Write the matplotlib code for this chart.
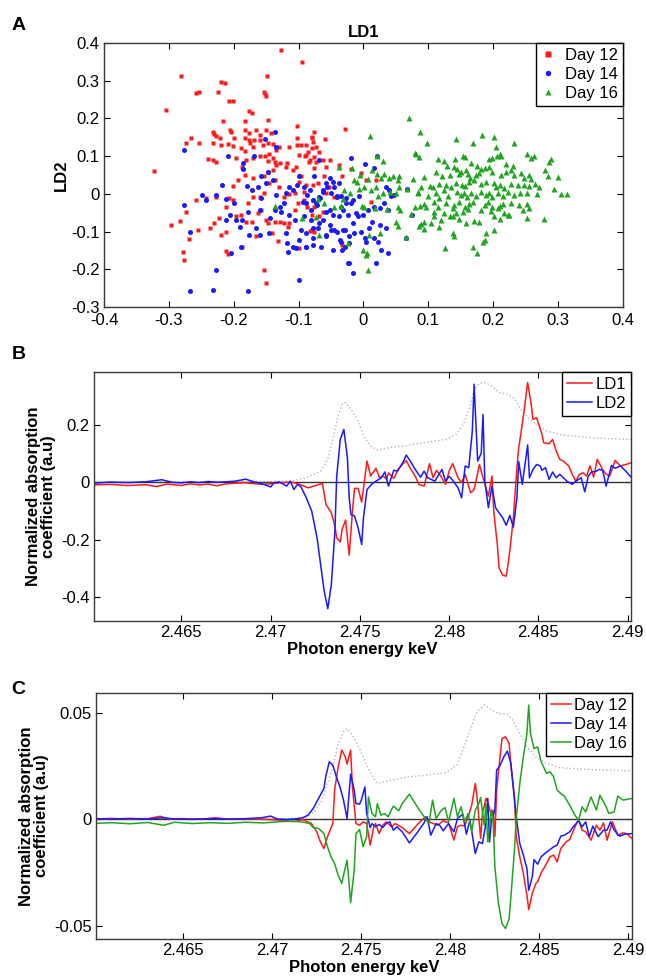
import matplotlib
matplotlib.use("Agg")
import matplotlib.pyplot as plt
from matplotlib.ticker import FuncFormatter

plt.rcParams['font.family'] = ['Liberation Sans', 'DejaVu Sans']

# ---- Panel A: LD scores (LD1, LD2) ----
day12 = [(-0.127, 0.382), (-0.094, 0.349), (-0.282, 0.313), (-0.149, 0.313), (-0.304, 0.222),
         (-0.219, 0.296), (-0.214, 0.295), (-0.224, 0.271), (-0.258, 0.268), (-0.253, 0.270),
         (-0.207, 0.245), (-0.201, 0.246), (-0.153, 0.271), (-0.151, 0.264), (-0.150, 0.260),
         (-0.177, 0.220), (-0.172, 0.215), (-0.217, 0.193), (-0.183, 0.192), (-0.147, 0.196),
         (-0.103, 0.181), (-0.274, 0.134), (-0.266, 0.149), (-0.253, 0.136), (-0.232, 0.164),
         (-0.231, 0.159), (-0.206, 0.169), (-0.204, 0.165), (-0.183, 0.169), (-0.177, 0.162),
         (-0.165, 0.169), (-0.160, 0.156), (-0.150, 0.169), (-0.142, 0.161), (-0.199, 0.147),
         (-0.183, 0.147), (-0.176, 0.143), (-0.175, 0.134), (-0.169, 0.143), (-0.160, 0.143),
         (-0.155, 0.130), (-0.147, 0.134), (-0.140, 0.131), (-0.135, 0.116), (-0.130, 0.123),
         (-0.170, 0.123), (-0.145, 0.106), (-0.140, 0.094), (-0.188, 0.121), (-0.183, 0.114),
         (-0.201, 0.128), (-0.209, 0.132), (-0.219, 0.130), (-0.221, 0.147), (-0.227, 0.154),
         (-0.232, 0.134), (-0.240, 0.092), (-0.232, 0.090), (-0.227, 0.085), (-0.196, 0.094),
         (-0.187, 0.072), (-0.181, 0.090), (-0.170, 0.094), (-0.160, 0.099), (-0.152, 0.100),
         (-0.147, 0.088), (-0.136, 0.085), (-0.129, 0.081), (-0.118, 0.081), (-0.115, 0.125),
         (-0.103, 0.130), (-0.103, 0.147), (-0.088, 0.130), (-0.086, 0.112), (-0.079, 0.147),
         (-0.076, 0.165), (-0.059, 0.145), (-0.029, 0.172), (-0.073, 0.125), (-0.068, 0.112),
         (-0.076, 0.097), (-0.063, 0.090), (-0.058, 0.072), (-0.051, 0.090), (-0.099, 0.103),
         (-0.090, 0.099), (-0.084, 0.085), (-0.104, 0.072), (-0.109, 0.063), (-0.119, 0.072),
         (-0.135, 0.077), (-0.140, 0.063), (-0.147, 0.059), (-0.154, 0.046), (-0.170, 0.041),
         (-0.183, 0.050), (-0.194, 0.037), (-0.201, 0.021), (-0.207, -0.012), (-0.227, -0.008),
         (-0.242, -0.012), (-0.258, -0.016), (-0.273, -0.047), (-0.283, -0.071), (-0.237, -0.091),
         (-0.230, -0.078), (-0.222, -0.065), (-0.212, -0.034), (-0.201, -0.016), (-0.196, -0.060),
         (-0.189, -0.056), (-0.181, -0.074), (-0.172, -0.074), (-0.163, -0.050), (-0.158, -0.043),
         (-0.150, -0.069), (-0.147, -0.078), (-0.141, -0.105), (-0.132, -0.124), (-0.136, -0.074),
         (-0.129, -0.074), (-0.123, -0.078), (-0.114, -0.078), (-0.106, -0.043), (-0.101, -0.025),
         (-0.091, -0.016), (-0.087, -0.034), (-0.079, -0.056), (-0.076, -0.100), (-0.068, -0.060),
         (-0.062, -0.047), (-0.058, 0.001), (-0.053, 0.019), (-0.046, -0.008), (-0.106, 0.001),
         (-0.114, 0.000), (-0.122, -0.008), (-0.130, 0.019), (-0.137, 0.037), (-0.145, 0.028),
         (-0.154, 0.001), (-0.160, -0.008), (-0.170, -0.008), (-0.178, -0.025), (-0.165, -0.113),
         (-0.153, -0.202), (-0.150, -0.237), (-0.212, -0.151), (-0.209, -0.159), (-0.278, -0.153),
         (-0.276, -0.175), (-0.269, -0.121), (-0.255, -0.096), (-0.219, -0.109), (-0.212, -0.100),
         (-0.187, -0.140), (-0.117, -0.087), (-0.099, -0.144), (-0.033, -0.136), (-0.323, 0.061),
         (-0.296, -0.082), (-0.080, 0.150), (-0.078, 0.138), (-0.079, 0.121), (-0.096, 0.130),
         (-0.088, 0.103), (-0.083, 0.090), (-0.073, 0.085), (-0.076, 0.068), (-0.038, 0.077),
         (-0.019, 0.065), (-0.033, 0.046), (-0.004, 0.056), (0.004, 0.037), (0.012, -0.023),
         (-0.096, 0.046), (-0.099, 0.032), (-0.088, 0.024), (-0.078, 0.024), (-0.070, 0.028),
         (-0.060, 0.046), (-0.091, 0.006), (-0.078, -0.016), (-0.076, -0.034), (-0.079, -0.096),
         (-0.083, -0.098), (0.020, 0.037)]

day14 = [(-0.277, 0.115), (-0.209, 0.101), (-0.185, 0.065), (-0.169, 0.099), (-0.152, 0.145),
         (-0.137, 0.165), (-0.135, 0.125), (-0.186, 0.081), (-0.277, -0.030), (-0.268, -0.100),
         (-0.242, -0.016), (-0.227, -0.003), (-0.218, 0.024), (-0.212, -0.015), (-0.196, -0.069),
         (-0.191, -0.087), (-0.187, -0.069), (-0.178, -0.047), (-0.179, 0.021), (-0.172, 0.010),
         (-0.163, 0.019), (-0.158, -0.012), (-0.158, 0.046), (-0.147, 0.059), (-0.150, 0.028),
         (-0.140, 0.037), (-0.135, -0.003), (-0.129, -0.034), (-0.123, -0.025), (-0.119, 0.001),
         (-0.114, 0.019), (-0.109, 0.010), (-0.103, 0.024), (-0.099, 0.046), (-0.091, 0.019),
         (-0.087, -0.003), (-0.082, 0.010), (-0.078, -0.016), (-0.072, -0.030), (-0.068, -0.008),
         (-0.063, 0.010), (-0.058, 0.028), (-0.051, 0.041), (-0.045, 0.019), (-0.040, -0.008),
         (-0.034, -0.034), (-0.027, -0.012), (-0.019, -0.025), (-0.012, -0.050), (-0.052, -0.043),
         (-0.063, -0.069), (-0.070, -0.091), (-0.078, -0.118), (-0.088, -0.140), (-0.088, -0.105),
         (-0.096, -0.096), (-0.105, -0.069), (-0.114, -0.056), (-0.119, -0.105), (-0.118, -0.131),
         (-0.117, -0.153), (-0.109, -0.140), (-0.104, -0.144), (-0.099, -0.122), (-0.091, -0.060),
         (-0.081, -0.069), (-0.058, -0.113), (-0.045, -0.096), (-0.036, -0.122), (-0.029, -0.096),
         (-0.022, -0.131), (-0.016, -0.211), (-0.023, -0.184), (-0.099, -0.228), (-0.268, -0.259),
         (-0.232, -0.255), (-0.227, -0.202), (-0.204, -0.158), (-0.189, -0.142), (-0.176, -0.109),
         (-0.160, -0.109), (-0.145, -0.105), (-0.178, -0.259), (-0.033, -0.149), (-0.127, -0.047),
         (-0.137, -0.043), (-0.144, -0.065), (-0.160, -0.043), (-0.166, -0.091), (-0.206, -0.056),
         (-0.212, -0.069), (-0.199, -0.025), (-0.249, -0.003), (-0.019, 0.094), (0.021, 0.099),
         (0.003, 0.079), (0.017, 0.068), (-0.069, 0.090), (-0.076, 0.046), (-0.037, 0.028),
         (-0.047, 0.032), (-0.056, 0.019), (-0.063, 0.006), (-0.050, 0.001), (-0.034, -0.007),
         (-0.027, -0.025), (-0.032, -0.043), (-0.040, -0.007), (-0.067, -0.012), (-0.073, -0.025),
         (-0.081, -0.043), (-0.088, -0.025), (-0.093, -0.021), (-0.058, -0.047), (-0.047, -0.056),
         (-0.037, -0.060), (-0.024, -0.056), (-0.016, -0.078), (-0.009, -0.060), (-0.001, -0.056),
         (0.007, -0.043), (0.017, -0.034), (0.025, -0.038), (0.035, 0.019), (0.040, 0.010),
         (0.043, -0.007), (0.032, -0.025), (0.038, -0.043), (0.048, -0.003), (0.067, 0.012),
         (0.075, -0.056), (0.065, -0.118), (0.035, -0.091), (0.025, -0.083), (0.014, -0.074),
         (0.009, -0.091), (-0.004, -0.100), (-0.014, -0.105), (-0.022, -0.113), (-0.032, -0.096),
         (-0.040, -0.100), (-0.050, -0.096), (-0.058, -0.109), (-0.065, -0.140), (-0.078, -0.136),
         (-0.088, -0.140), (-0.034, -0.127), (-0.029, -0.140), (0.002, -0.118), (0.004, -0.127),
         (0.017, -0.118), (0.022, -0.127), (0.027, -0.149), (0.038, -0.156), (0.020, -0.184),
         (-0.022, -0.184), (-0.047, -0.149), (-0.052, -0.083), (-0.068, -0.078), (-0.078, -0.091),
         (-0.016, -0.016), (-0.006, -0.007)]

day16 = [(0.088, 0.163), (0.098, 0.134), (0.143, 0.145), (0.169, 0.134), (0.183, 0.156),
         (0.202, 0.150), (0.205, 0.125), (0.232, 0.134), (0.081, 0.105), (0.086, 0.097),
         (0.115, 0.093), (0.124, 0.086), (0.129, 0.074), (0.142, 0.093), (0.153, 0.101),
         (0.156, 0.097), (0.166, 0.081), (0.176, 0.074), (0.181, 0.065), (0.193, 0.092),
         (0.198, 0.094), (0.206, 0.099), (0.210, 0.105), (0.213, 0.100), (0.220, 0.078),
         (0.230, 0.074), (0.253, 0.105), (0.258, 0.094), (0.263, 0.099), (0.289, 0.092),
         (0.287, 0.085), (0.094, 0.044), (0.112, 0.059), (0.121, 0.046), (0.134, 0.050),
         (0.140, 0.072), (0.144, 0.065), (0.148, 0.053), (0.151, 0.059), (0.158, 0.062),
         (0.161, 0.053), (0.165, 0.041), (0.174, 0.050), (0.179, 0.055), (0.188, 0.068),
         (0.194, 0.072), (0.199, 0.059), (0.212, 0.050), (0.220, 0.059), (0.228, 0.063),
         (0.233, 0.050), (0.243, 0.055), (0.248, 0.041), (0.256, 0.050), (0.258, 0.039),
         (0.280, 0.062), (0.284, 0.046), (0.300, 0.044), (0.102, 0.021), (0.107, 0.017),
         (0.116, 0.026), (0.127, 0.024), (0.135, 0.019), (0.143, 0.028), (0.152, 0.024),
         (0.156, 0.021), (0.163, 0.032), (0.171, 0.037), (0.181, 0.026), (0.189, 0.032),
         (0.202, 0.028), (0.204, 0.019), (0.210, 0.024), (0.217, 0.015), (0.228, 0.026),
         (0.238, 0.024), (0.248, 0.024), (0.256, 0.021), (0.264, 0.026), (0.271, 0.019),
         (0.294, 0.012), (0.305, -0.001), (0.314, -0.001), (0.085, 0.003), (0.099, -0.007),
         (0.112, 0.003), (0.117, -0.012), (0.125, 0.010), (0.130, -0.007), (0.145, 0.006),
         (0.150, -0.003), (0.155, 0.001), (0.160, -0.009), (0.166, 0.001), (0.174, -0.007),
         (0.181, 0.006), (0.189, -0.003), (0.194, 0.003), (0.198, -0.009), (0.207, 0.001),
         (0.216, -0.007), (0.223, 0.006), (0.233, -0.003), (0.242, 0.003), (0.253, 0.001),
         (0.268, -0.001), (0.094, -0.027), (0.109, -0.023), (0.115, -0.034), (0.127, -0.025),
         (0.140, -0.030), (0.148, -0.021), (0.156, -0.034), (0.163, -0.027), (0.169, -0.023),
         (0.187, -0.030), (0.192, -0.023), (0.199, -0.034), (0.211, -0.032), (0.215, -0.027),
         (0.228, -0.025), (0.240, -0.030), (0.253, -0.027), (0.080, -0.034), (0.097, -0.034),
         (0.109, -0.047), (0.125, -0.052), (0.138, -0.038), (0.143, -0.052), (0.153, -0.047),
         (0.161, -0.041), (0.181, -0.043), (0.197, -0.045), (0.207, -0.038), (0.217, -0.052),
         (0.225, -0.056), (0.246, -0.043), (0.256, -0.038), (0.089, -0.080), (0.104, -0.078),
         (0.109, -0.060), (0.120, -0.069), (0.133, -0.059), (0.138, -0.060), (0.148, -0.068),
         (0.158, -0.078), (0.171, -0.071), (0.179, -0.076), (0.202, -0.060), (0.211, -0.068),
         (0.223, -0.056), (0.253, -0.065), (0.279, -0.068), (0.093, -0.094), (0.117, -0.089),
         (0.138, -0.103), (0.140, -0.112), (0.189, -0.103), (0.202, -0.096), (0.184, -0.127),
         (0.187, -0.122), (0.126, -0.144), (0.169, -0.142), (0.176, -0.156), (0.071, 0.200),
         (0.010, 0.154), (0.021, 0.099), (0.031, 0.088), (0.079, 0.108), (-0.037, 0.072),
         (-0.018, 0.068), (-0.010, 0.032), (-0.014, 0.037), (-0.005, 0.050), (0.007, 0.039),
         (0.014, 0.062), (0.021, 0.053), (0.027, 0.041), (0.032, 0.053), (0.040, 0.041),
         (0.045, 0.047), (0.053, 0.037), (0.055, 0.046), (0.076, 0.039), (-0.030, 0.009),
         (-0.020, 0.001), (-0.007, 0.012), (0.001, 0.017), (0.012, 0.010), (0.019, 0.019),
         (0.023, -0.007), (0.031, 0.001), (0.041, 0.006), (0.050, 0.001), (0.067, 0.012),
         (0.084, 0.006), (0.089, 0.017), (-0.070, -0.014), (-0.060, -0.025), (-0.045, -0.036),
         (-0.034, -0.032), (-0.032, -0.014), (-0.002, -0.032), (0.001, -0.036), (0.018, -0.038),
         (0.037, -0.041), (0.053, -0.034), (0.057, -0.044), (0.074, -0.053), (0.088, -0.032),
         (-0.137, -0.032), (-0.094, -0.065), (-0.073, -0.062), (0.050, -0.074), (0.053, -0.085),
         (0.093, -0.076), (0.000, -0.149), (0.006, -0.158), (0.008, -0.109), (0.004, -0.162),
         (0.066, -0.115), (0.086, -0.085), (-0.024, -0.131), (-0.069, -0.109), (0.025, -0.105),
         (0.007, -0.202), (0.055, 0.017)]

# ---- Panel B: LD loadings vs photon energy (keV) ----
ld1 = [(2.4601, -0.010), (2.4610, -0.008), (2.4620, -0.012), (2.4630, -0.009), (2.4636, -0.016),
       (2.4642, -0.007), (2.4650, -0.012), (2.4655, -0.006), (2.4660, -0.010), (2.4665, -0.007),
       (2.4670, -0.013), (2.4675, -0.006), (2.4680, -0.004), (2.4685, -0.002), (2.4690, -0.005),
       (2.4695, -0.008), (2.4700, -0.006), (2.4705, -0.003), (2.4711, 0.000), (2.4715, -0.005),
       (2.4721, -0.020), (2.4729, -0.005), (2.4731, -0.078), (2.4734, -0.107), (2.4736, -0.153),
       (2.4737, -0.194), (2.4739, -0.208), (2.4740, -0.165), (2.4742, -0.132), (2.4744, -0.254),
       (2.4745, -0.171), (2.4746, -0.089), (2.4747, -0.022), (2.4749, -0.022), (2.4751, -0.070),
       (2.4754, 0.073), (2.4756, 0.021), (2.4759, 0.048), (2.4761, 0.015), (2.4763, 0.021),
       (2.4765, 0.009), (2.4766, 0.032), (2.4769, 0.013), (2.4771, 0.038), (2.4773, 0.056),
       (2.4776, 0.075), (2.4778, 0.050), (2.4781, 0.021), (2.4783, -0.008), (2.4786, -0.014),
       (2.4789, 0.064), (2.4791, 0.015), (2.4793, 0.041), (2.4795, 0.024), (2.4798, -0.008),
       (2.4800, 0.038), (2.4802, 0.064), (2.4805, 0.015), (2.4807, -0.002), (2.4809, 0.027),
       (2.4812, -0.037), (2.4814, -0.026), (2.4817, 0.061), (2.4819, 0.015), (2.4822, -0.049),
       (2.4824, 0.021), (2.4825, -0.101), (2.4827, -0.217), (2.4828, -0.298), (2.4830, -0.324),
       (2.4832, -0.327), (2.4833, -0.287), (2.4834, -0.240), (2.4836, -0.124), (2.4838, 0.050),
       (2.4839, 0.119), (2.4840, 0.160), (2.4842, 0.247), (2.4844, 0.346), (2.4846, 0.270),
       (2.4847, 0.218), (2.4849, 0.224), (2.4852, 0.166), (2.4853, 0.137), (2.4856, 0.133),
       (2.4858, 0.148), (2.4860, 0.108), (2.4862, 0.079), (2.4864, 0.073), (2.4867, 0.056),
       (2.4869, 0.027), (2.4871, 0.003), (2.4873, 0.027), (2.4875, 0.032), (2.4877, 0.021),
       (2.4879, 0.056), (2.4881, 0.017), (2.4883, 0.079), (2.4886, 0.044), (2.4888, 0.027),
       (2.4890, 0.021), (2.4893, 0.075), (2.4896, 0.056), (2.4899, 0.061), (2.4902, 0.067)]

ld2 = [(2.4601, -0.004), (2.4610, 0.000), (2.4620, -0.002), (2.4630, 0.001), (2.4639, 0.008),
       (2.4645, -0.001), (2.4650, -0.003), (2.4655, 0.001), (2.4660, -0.002), (2.4665, 0.002),
       (2.4670, -0.001), (2.4675, 0.001), (2.4680, 0.003), (2.4686, 0.010), (2.4690, 0.002),
       (2.4695, -0.006), (2.4700, -0.017), (2.4702, -0.002), (2.4705, 0.000), (2.4709, -0.014),
       (2.4711, 0.003), (2.4713, -0.026), (2.4715, -0.008), (2.4717, -0.017), (2.4720, -0.055),
       (2.4723, -0.101), (2.4726, -0.194), (2.4728, -0.287), (2.4730, -0.379), (2.4732, -0.440),
       (2.4734, -0.356), (2.4736, -0.171), (2.4737, 0.020), (2.4739, 0.148), (2.4741, 0.183),
       (2.4743, 0.085), (2.4744, -0.055), (2.4745, -0.113), (2.4747, -0.118), (2.4749, -0.159),
       (2.4751, -0.217), (2.4752, -0.124), (2.4754, -0.026), (2.4757, -0.005), (2.4762, 0.015),
       (2.4764, 0.035), (2.4766, -0.014), (2.4769, 0.041), (2.4771, 0.038), (2.4774, 0.067),
       (2.4776, 0.094), (2.4778, 0.075), (2.4781, 0.044), (2.4784, 0.017), (2.4786, 0.038),
       (2.4788, 0.015), (2.4792, 0.003), (2.4796, 0.044), (2.4798, 0.003), (2.4800, 0.020),
       (2.4802, 0.006), (2.4805, -0.020), (2.4807, -0.055), (2.4809, 0.056), (2.4811, 0.050),
       (2.4813, 0.177), (2.4814, 0.340), (2.4816, 0.073), (2.4818, 0.100), (2.4819, 0.235),
       (2.4820, 0.003), (2.4822, -0.089), (2.4824, -0.014), (2.4826, -0.089), (2.4828, -0.107),
       (2.4830, -0.124), (2.4832, -0.150), (2.4834, -0.116), (2.4836, -0.157), (2.4838, -0.055),
       (2.4839, 0.071), (2.4841, -0.008), (2.4844, 0.129), (2.4845, 0.015), (2.4847, 0.044),
       (2.4849, 0.061), (2.4851, 0.056), (2.4852, 0.041), (2.4854, 0.050), (2.4856, 0.009),
       (2.4858, 0.035), (2.4860, 0.015), (2.4862, 0.027), (2.4864, 0.015), (2.4866, 0.003),
       (2.4869, -0.008), (2.4871, 0.003), (2.4874, 0.015), (2.4876, -0.034), (2.4878, 0.021),
       (2.4880, 0.036), (2.4882, 0.036), (2.4884, 0.044), (2.4886, 0.041), (2.4888, -0.014),
       (2.4891, 0.058), (2.4893, 0.048), (2.4896, 0.056), (2.4899, 0.038), (2.4902, 0.017)]

ref_b = [(2.4601, 0.000), (2.4700, 0.002), (2.4712, 0.004), (2.4720, 0.015), (2.4728, 0.038),
         (2.4732, 0.079), (2.4735, 0.154), (2.4738, 0.235), (2.4740, 0.270), (2.4742, 0.276),
         (2.4745, 0.253), (2.4749, 0.212), (2.4752, 0.160), (2.4756, 0.125), (2.4760, 0.110),
         (2.4764, 0.117), (2.4769, 0.122), (2.4775, 0.125), (2.4780, 0.131), (2.4786, 0.137),
         (2.4792, 0.143), (2.4798, 0.148), (2.4804, 0.166), (2.4808, 0.201), (2.4812, 0.270),
         (2.4814, 0.322), (2.4817, 0.343), (2.4820, 0.346), (2.4824, 0.334), (2.4828, 0.311),
         (2.4833, 0.305), (2.4837, 0.288), (2.4840, 0.253), (2.4844, 0.224), (2.4850, 0.195),
         (2.4855, 0.177), (2.4863, 0.164), (2.4870, 0.160), (2.4879, 0.154), (2.4889, 0.151),
         (2.4902, 0.148)]

# ---- Panel C: mean spectra per day minus overall mean ----
d12 = [(2.4601, 0.0003), (2.4610, 0.0005), (2.4620, 0.0002), (2.4630, 0.0004), (2.4637, 0.0015),
       (2.4642, 0.0002), (2.4650, 0.0004), (2.4660, 0.0001), (2.4668, 0.0008), (2.4675, 0.0002),
       (2.4685, 0.0003), (2.4695, 0.0001), (2.4705, -0.0003), (2.4712, -0.0010), (2.4717, 0.0000),
       (2.4722, -0.0019), (2.4725, -0.0058), (2.4727, -0.0105), (2.4729, -0.0136), (2.4731, -0.0081),
       (2.4734, -0.0019), (2.4735, 0.0138), (2.4737, 0.0247), (2.4739, 0.0326), (2.4741, 0.0294),
       (2.4742, 0.0260), (2.4744, 0.0326), (2.4745, 0.0153), (2.4747, -0.0019), (2.4749, -0.0027),
       (2.4751, -0.0011), (2.4753, -0.0019), (2.4755, -0.0120), (2.4757, -0.0034), (2.4758, -0.0019),
       (2.4760, -0.0066), (2.4762, -0.0027), (2.4764, -0.0011), (2.4767, -0.0034), (2.4769, -0.0019),
       (2.4773, -0.0038), (2.4777, -0.0066), (2.4782, -0.0019), (2.4786, 0.0013), (2.4788, -0.0011),
       (2.4793, -0.0027), (2.4796, -0.0005), (2.4799, -0.0016), (2.4802, -0.0097), (2.4804, -0.0034),
       (2.4806, -0.0027), (2.4808, -0.0030), (2.4810, 0.0013), (2.4812, 0.0067), (2.4814, 0.0169),
       (2.4815, 0.0106), (2.4817, -0.0089), (2.4818, 0.0028), (2.4820, 0.0099), (2.4821, 0.0083),
       (2.4823, 0.0020), (2.4824, 0.0044), (2.4825, -0.0080), (2.4826, 0.0138), (2.4828, 0.0302),
       (2.4829, 0.0380), (2.4831, 0.0388), (2.4833, 0.0357), (2.4834, 0.0255), (2.4836, 0.0106),
       (2.4837, -0.0081), (2.4839, -0.0175), (2.4841, -0.0254), (2.4843, -0.0355), (2.4844, -0.0423),
       (2.4846, -0.0347), (2.4848, -0.0300), (2.4849, -0.0293), (2.4851, -0.0250), (2.4853, -0.0222),
       (2.4856, -0.0175), (2.4858, -0.0167), (2.4860, -0.0199), (2.4862, -0.0136), (2.4865, -0.0105),
       (2.4867, -0.0094), (2.4870, -0.0034), (2.4872, 0.0000), (2.4874, -0.0050), (2.4876, -0.0058),
       (2.4879, -0.0097), (2.4882, -0.0027), (2.4884, -0.0050), (2.4886, -0.0016), (2.4888, -0.0097),
       (2.4891, -0.0011), (2.4894, -0.0074), (2.4897, -0.0063), (2.4899, -0.0066), (2.4902, -0.0089)]

d14 = [(2.4601, 0.0004), (2.4610, 0.0002), (2.4620, 0.0005), (2.4630, 0.0002), (2.4638, 0.0008),
       (2.4645, 0.0003), (2.4655, 0.0001), (2.4665, 0.0004), (2.4675, 0.0002), (2.4685, 0.0004),
       (2.4694, 0.0008), (2.4699, 0.0016), (2.4703, 0.0002), (2.4708, 0.0000), (2.4713, 0.0003),
       (2.4717, 0.0008), (2.4720, 0.0020), (2.4723, 0.0052), (2.4726, 0.0099), (2.4729, 0.0146),
       (2.4730, 0.0200), (2.4732, 0.0271), (2.4734, 0.0255), (2.4736, 0.0200), (2.4738, 0.0153),
       (2.4740, 0.0091), (2.4742, 0.0005), (2.4744, 0.0213), (2.4746, 0.0138), (2.4747, 0.0075),
       (2.4749, 0.0072), (2.4750, 0.0091), (2.4752, 0.0153), (2.4753, 0.0028), (2.4755, -0.0038),
       (2.4756, -0.0019), (2.4758, -0.0034), (2.4760, -0.0023), (2.4762, -0.0038), (2.4764, -0.0019),
       (2.4766, -0.0011), (2.4768, -0.0050), (2.4770, -0.0034), (2.4773, -0.0058), (2.4777, -0.0110),
       (2.4781, -0.0066), (2.4785, -0.0019), (2.4787, 0.0013), (2.4789, -0.0074), (2.4792, -0.0019),
       (2.4794, -0.0027), (2.4796, -0.0053), (2.4799, -0.0020), (2.4802, -0.0058), (2.4804, 0.0005),
       (2.4807, 0.0025), (2.4809, -0.0069), (2.4811, -0.0003), (2.4814, -0.0160), (2.4816, -0.0105),
       (2.4818, -0.0113), (2.4820, -0.0019), (2.4821, 0.0099), (2.4822, -0.0105), (2.4823, -0.0011),
       (2.4825, 0.0044), (2.4826, 0.0232), (2.4828, 0.0255), (2.4830, 0.0294), (2.4832, 0.0321),
       (2.4834, 0.0263), (2.4835, 0.0177), (2.4837, 0.0013), (2.4839, -0.0113), (2.4841, -0.0167),
       (2.4843, -0.0230), (2.4844, -0.0332), (2.4846, -0.0269), (2.4847, -0.0188), (2.4849, -0.0210),
       (2.4851, -0.0175), (2.4853, -0.0160), (2.4856, -0.0141), (2.4858, -0.0128), (2.4860, -0.0120),
       (2.4862, -0.0078), (2.4864, -0.0074), (2.4867, -0.0058), (2.4869, -0.0034), (2.4872, -0.0006),
       (2.4874, -0.0034), (2.4876, -0.0011), (2.4878, -0.0081), (2.4880, -0.0031), (2.4883, -0.0081),
       (2.4886, -0.0050), (2.4888, -0.0050), (2.4890, -0.0011), (2.4892, -0.0050), (2.4895, -0.0078),
       (2.4898, -0.0069), (2.4902, -0.0066)]

d16 = [(2.4601, -0.0018), (2.4610, -0.0015), (2.4620, -0.0020), (2.4630, -0.0014), (2.4639, -0.0027),
       (2.4645, -0.0013), (2.4655, -0.0019), (2.4665, -0.0015), (2.4675, -0.0018), (2.4685, -0.0013),
       (2.4695, -0.0016), (2.4705, -0.0010), (2.4712, -0.0008), (2.4717, -0.0012), (2.4721, -0.0019),
       (2.4723, -0.0038), (2.4726, -0.0042), (2.4729, -0.0066), (2.4731, -0.0128), (2.4733, -0.0175),
       (2.4735, -0.0207), (2.4737, -0.0261), (2.4739, -0.0300), (2.4740, -0.0261), (2.4742, -0.0191),
       (2.4743, -0.0285), (2.4744, -0.0390), (2.4746, -0.0238), (2.4747, -0.0066), (2.4749, -0.0047),
       (2.4751, -0.0128), (2.4753, -0.0081), (2.4754, 0.0106), (2.4756, 0.0028), (2.4758, 0.0013),
       (2.4759, 0.0075), (2.4761, 0.0020), (2.4763, 0.0028), (2.4765, 0.0013), (2.4768, 0.0063),
       (2.4771, 0.0041), (2.4773, 0.0075), (2.4777, 0.0119), (2.4782, 0.0052), (2.4786, 0.0005),
       (2.4788, -0.0019), (2.4790, 0.0091), (2.4792, 0.0005), (2.4795, 0.0044), (2.4797, 0.0056),
       (2.4799, -0.0011), (2.4802, 0.0099), (2.4804, 0.0013), (2.4806, 0.0059), (2.4808, -0.0011),
       (2.4810, 0.0028), (2.4812, -0.0058), (2.4814, 0.0044), (2.4816, 0.0075), (2.4817, 0.0103),
       (2.4819, -0.0027), (2.4820, 0.0075), (2.4821, -0.0105), (2.4823, 0.0044), (2.4824, -0.0003),
       (2.4825, -0.0222), (2.4827, -0.0394), (2.4829, -0.0488), (2.4831, -0.0512), (2.4833, -0.0465),
       (2.4834, -0.0363), (2.4836, -0.0144), (2.4837, 0.0005), (2.4839, 0.0169), (2.4841, 0.0294),
       (2.4843, 0.0404), (2.4844, 0.0537), (2.4845, 0.0404), (2.4847, 0.0333), (2.4849, 0.0341),
       (2.4851, 0.0271), (2.4853, 0.0235), (2.4854, 0.0216), (2.4856, 0.0224), (2.4858, 0.0200),
       (2.4860, 0.0138), (2.4862, 0.0122), (2.4864, 0.0110), (2.4867, 0.0067), (2.4870, 0.0020),
       (2.4872, -0.0003), (2.4874, 0.0059), (2.4876, 0.0036), (2.4879, 0.0106), (2.4882, 0.0044),
       (2.4884, 0.0114), (2.4887, 0.0067), (2.4889, 0.0028), (2.4892, 0.0036), (2.4894, 0.0110),
       (2.4897, 0.0091), (2.4899, 0.0094), (2.4902, 0.0099)]

ref_c = [(2.4601, 0.0000), (2.4700, 0.0003), (2.4716, 0.0006), (2.4720, 0.0013), (2.4724, 0.0041),
         (2.4728, 0.0091), (2.4731, 0.0169), (2.4734, 0.0247), (2.4737, 0.0357), (2.4740, 0.0412),
         (2.4742, 0.0427), (2.4745, 0.0396), (2.4749, 0.0333), (2.4753, 0.0255), (2.4757, 0.0192),
         (2.4759, 0.0169), (2.4763, 0.0177), (2.4769, 0.0188), (2.4774, 0.0197), (2.4780, 0.0203),
         (2.4786, 0.0208), (2.4791, 0.0213), (2.4797, 0.0219), (2.4800, 0.0232), (2.4804, 0.0260),
         (2.4807, 0.0326), (2.4811, 0.0419), (2.4815, 0.0505), (2.4819, 0.0537), (2.4822, 0.0521),
         (2.4827, 0.0498), (2.4832, 0.0495), (2.4835, 0.0466), (2.4839, 0.0404), (2.4843, 0.0341),
         (2.4848, 0.0294), (2.4854, 0.0263), (2.4861, 0.0244), (2.4869, 0.0239), (2.4878, 0.0235),
         (2.4888, 0.0232), (2.4902, 0.0228)]

e_ticks = [2.465, 2.47, 2.475, 2.48, 2.485, 2.49]

RED = '#ff1a1a'
BLUE = '#1a1aff'
GREEN = '#1fa51f'
SPINE = '#3a3a3a'


def style_axes(ax):
    ax.tick_params(direction='in', top=True, right=True, length=4, width=0.8,
                   labelsize=12, colors='black', pad=3)
    for sp in ax.spines.values():
        sp.set_color(SPINE)
        sp.set_linewidth(1.0)
    ax.xaxis.set_major_formatter(FuncFormatter(lambda v, p: '%g' % round(v, 4)))
    ax.yaxis.set_major_formatter(FuncFormatter(lambda v, p: '%g' % round(v, 4)))


fig = plt.figure(figsize=(6.46, 9.76), dpi=100)

# Panel A
axA = fig.add_axes([0.161, 0.6855, 0.803, 0.2705])
for pts, mk, col, lab, ms in [(day12, 's', RED, 'Day 12', 3.4), (day14, 'o', BLUE, 'Day 14', 3.6),
                              (day16, '^', GREEN, 'Day 16', 3.8)]:
    xs, ys = zip(*pts)
    axA.plot(xs, ys, mk, color=col, ms=ms, mec='none', label=lab)
axA.set_xlim(-0.4, 0.4)
axA.set_ylim(-0.3, 0.4)
axA.set_xticks([-0.4, -0.3, -0.2, -0.1, 0, 0.1, 0.2, 0.3, 0.4])
axA.set_yticks([-0.3, -0.2, -0.1, 0, 0.1, 0.2, 0.3, 0.4])
style_axes(axA)
axA.tick_params(axis='x', pad=4)
axA.set_title('LD1', fontsize=12, fontweight='bold', pad=4)
axA.set_ylabel('LD2', fontsize=12, fontweight='bold', labelpad=2)
legA = axA.legend(loc='upper right', borderaxespad=0, fontsize=12, fancybox=False,
                  edgecolor='black', framealpha=1, handlelength=0.8, handletextpad=0.6,
                  borderpad=0.3, labelspacing=0.25, markerscale=1.1)
legA.get_frame().set_linewidth(1.0)

# Panel B
axB = fig.add_axes([0.1455, 0.3637, 0.8315, 0.2553])
e, v = zip(*ref_b)
axB.plot(e, v, ':', color='#b8b8b8', lw=1.0)
axB.axhline(0, color='#333333', lw=1.0)
e, v = zip(*ld1)
axB.plot(e, v, color=RED, lw=1.1, label='LD1')
e, v = zip(*ld2)
axB.plot(e, v, color=BLUE, lw=1.1, label='LD2')
axB.set_xlim(2.4601, 2.4902)
axB.set_ylim(-0.483, 0.383)
axB.set_xticks(e_ticks)
axB.set_yticks([-0.4, -0.2, 0, 0.2])
style_axes(axB)
axB.set_xlabel('Photon energy keV', fontsize=12, fontweight='bold', labelpad=1)
axB.set_ylabel('Normalized absorption\ncoefficient (a.u)', fontsize=12,
               fontweight='bold', labelpad=4, linespacing=1.0)
legB = axB.legend(loc='upper right', borderaxespad=0, fontsize=12, fancybox=False,
                  edgecolor='black', framealpha=1, handlelength=1.5, handletextpad=0.2,
                  borderpad=0.3, labelspacing=0.25)
legB.get_frame().set_linewidth(1.0)

# Panel C
axC = fig.add_axes([0.1486, 0.0379, 0.8297, 0.2521])
e, v = zip(*ref_c)
axC.plot(e, v, ':', color='#b8b8b8', lw=1.0)
axC.axhline(0, color='#333333', lw=1.0)
for pts, col, lab in [(d12, RED, 'Day 12'), (d14, BLUE, 'Day 14'), (d16, GREEN, 'Day 16')]:
    e, v = zip(*pts)
    axC.plot(e, v, color=col, lw=1.1, label=lab)
axC.set_xlim(2.4601, 2.4902)
axC.set_ylim(-0.0561, 0.0594)
axC.set_xticks(e_ticks)
axC.set_yticks([-0.05, 0, 0.05])
style_axes(axC)
axC.set_xlabel('Photon energy keV', fontsize=12, fontweight='bold', labelpad=1)
axC.set_ylabel('Normalized absorption\ncoefficient (a.u)', fontsize=12,
               fontweight='bold', labelpad=4, linespacing=1.0)
legC = axC.legend(loc='upper right', borderaxespad=0, fontsize=12, fancybox=False,
                  edgecolor='black', framealpha=1, handlelength=1.2, handletextpad=0.2,
                  borderpad=0.3, labelspacing=0.25)
legC.get_frame().set_linewidth(1.0)

# panel letters
fig.text(0.018, 0.974, 'A', fontsize=14, fontweight='bold', va='center')
fig.text(0.018, 0.637, 'B', fontsize=14, fontweight='bold', va='center')
fig.text(0.018, 0.294, 'C', fontsize=14, fontweight='bold', va='center')

fig.savefig('out.png', dpi=100)
